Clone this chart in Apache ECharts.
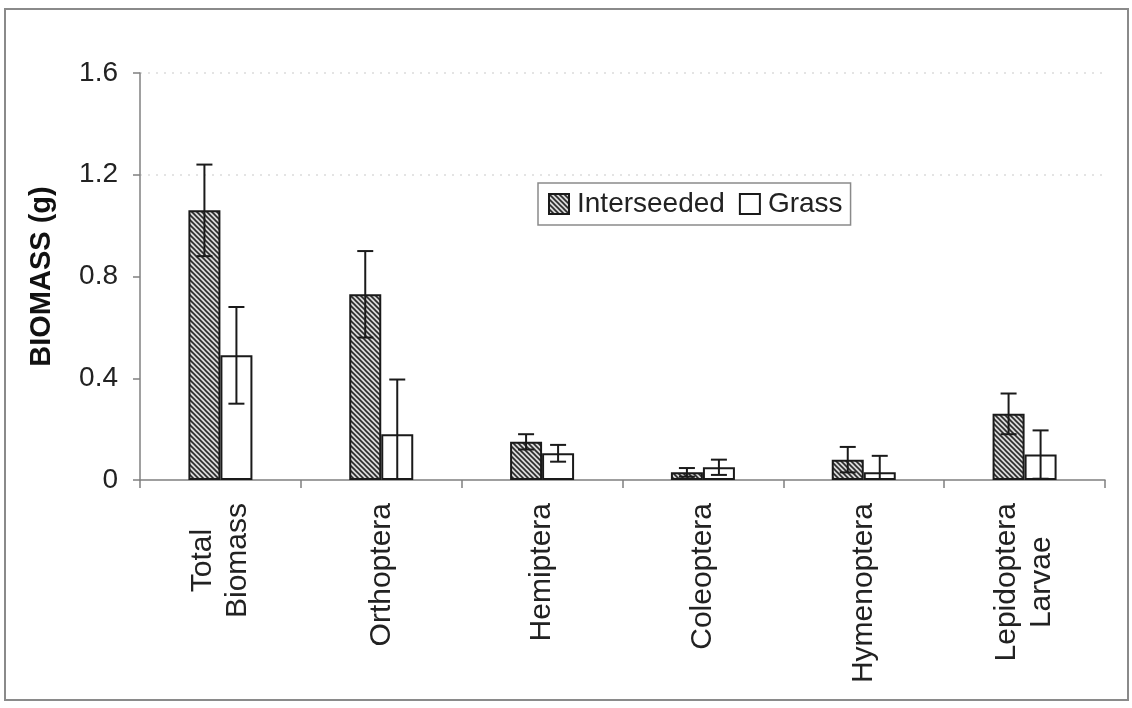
<!DOCTYPE html>
<html><head><meta charset="utf-8">
<script src="https://cdn.jsdelivr.net/npm/echarts@6/dist/echarts.min.js"></script>
<style>html,body{margin:0;padding:0;background:#fff}#c{width:1132px;height:708px}</style>
</head><body><div id="c"></div>
<script>
const categories = ['Total\nBiomass', 'Orthoptera', 'Hemiptera', 'Coleoptera', 'Hymenoptera', 'Lepidoptera\nLarvae'];
const interseeded = [1.06, 0.73, 0.15, 0.03, 0.08, 0.26];
const interseededErr = [0.18, 0.17, 0.03, 0.017, 0.05, 0.08];
const grass = [0.49, 0.18, 0.105, 0.05, 0.03, 0.10];
const grassErr = [0.19, 0.215, 0.033, 0.03, 0.065, 0.095];
const yTicks = [0, 0.4, 0.8, 1.2, 1.6];

// hatch pattern
const pc = document.createElement('canvas');
pc.width = 5; pc.height = 5;
const g = pc.getContext('2d');
g.fillStyle = '#d8d8d8'; g.fillRect(0,0,5,5);
g.strokeStyle = '#2a2a2a'; g.lineWidth = 1.6;
g.beginPath();
g.moveTo(-1,-1); g.lineTo(6,6);
g.moveTo(-1,4); g.lineTo(1,6);
g.moveTo(4,-1); g.lineTo(6,1);
g.stroke();
const hatch = {image: pc, repeat: 'repeat'};

function errData(vals, errs){
  return vals.map((v,i)=>[i, Math.max(0, v - errs[i]), v + errs[i]]);
}
function errSeries(vals, errs, offset){
  return {
    type: 'custom', silent: true, z: 10,
    data: errData(vals, errs),
    renderItem: function(params, api){
      const i = api.value(0);
      const lo = api.coord([i, api.value(1)]);
      const hi = api.coord([i, api.value(2)]);
      const x = lo[0] + offset;
      const cap = 8;
      const st = {stroke: '#1a1a1a', lineWidth: 2};
      const ch = [
        {type:'line', shape:{x1:x, y1:lo[1], x2:x, y2:hi[1]}, style: st},
        {type:'line', shape:{x1:x-cap, y1:hi[1], x2:x+cap, y2:hi[1]}, style: st}
      ];
      if (api.value(1) > 0) ch.push({type:'line', shape:{x1:x-cap, y1:lo[1], x2:x+cap, y2:lo[1]}, style: st});
      return {type:'group', children: ch};
    }
  };
}

const chart = echarts.init(document.getElementById('c'));
chart.setOption({
  backgroundColor: '#fff',
  animation: false,
  textStyle: {fontFamily: 'Liberation Sans, Arial, sans-serif'},
  graphic: [{type:'rect', shape:{x:5, y:9, width:1123, height:691}, style:{fill:'none', stroke:'#8a8a8a', lineWidth:2}, silent:true}],
  legend: {
    data: ['Interseeded', 'Grass'],
    left: 538, top: 183,
    orient: 'horizontal',
    icon: 'rect',
    itemWidth: 20, itemHeight: 20, itemGap: 14,
    padding: [7, 8, 7, 10],
    borderColor: '#8a8a8a', borderWidth: 1.5,
    textStyle: {fontSize: 28, color: '#222', fontFamily: 'Liberation Sans', padding: [0,0,0,3]}
  },
  grid: {left: 140, right: 27, top: 73, bottom: 228},
  xAxis: {
    type: 'category', data: categories,
    axisLine: {lineStyle: {color: '#808080', width: 1.5}},
    axisTick: {show: true, alignWithLabel: false, length: 8, inside: false, lineStyle: {color: '#808080', width: 1.5}},
    axisLabel: {
      rotate: 90, margin: 23, interval: 0, color: '#222', fontSize: 30, fontFamily: 'Liberation Sans',
      formatter: v => v.split('\n').map(s => '{a|' + s + '}').join('\n'),
      rich: {a: {fontSize: 30, align: 'center', color: '#222', fontFamily: 'Liberation Sans', lineHeight: 35}}
    },
    splitLine: {show: false}
  },
  yAxis: {
    type: 'value', min: 0, max: 1.6, interval: 0.4,
    name: 'BIOMASS (g)', nameLocation: 'middle', nameRotate: 90, nameGap: 84,
    nameTextStyle: {fontSize: 29, fontWeight: 'bold', color: '#111', fontFamily: 'Liberation Sans'},
    axisLine: {show: true, lineStyle: {color: '#808080', width: 1.5}},
    axisTick: {show: true, length: 7, lineStyle: {color: '#808080', width: 1.5}},
    axisLabel: {fontSize: 28, color: '#222', margin: 22, fontFamily: 'Liberation Sans',
      formatter: v => String(yTicks.find(t => Math.abs(t - v) < 1e-9) ?? v)},
    splitLine: {show: true, lineStyle: {type: [2, 6], width: 1.5, color: ['rgba(0,0,0,0)','rgba(0,0,0,0)','rgba(0,0,0,0)','#dcdcdc','#dcdcdc']}}
  },
  series: [
    {name: 'Interseeded', type: 'bar', data: interseeded, barWidth: 32, barGap: '0%',
     itemStyle: {color: hatch, borderColor: '#1a1a1a', borderWidth: 2}},
    {name: 'Grass', type: 'bar', data: grass, barWidth: 32, barGap: '0%',
     itemStyle: {color: '#fff', borderColor: '#1a1a1a', borderWidth: 2}},
    errSeries(interseeded, interseededErr, -16),
    errSeries(grass, grassErr, 16)
  ]
});
</script></body></html>
